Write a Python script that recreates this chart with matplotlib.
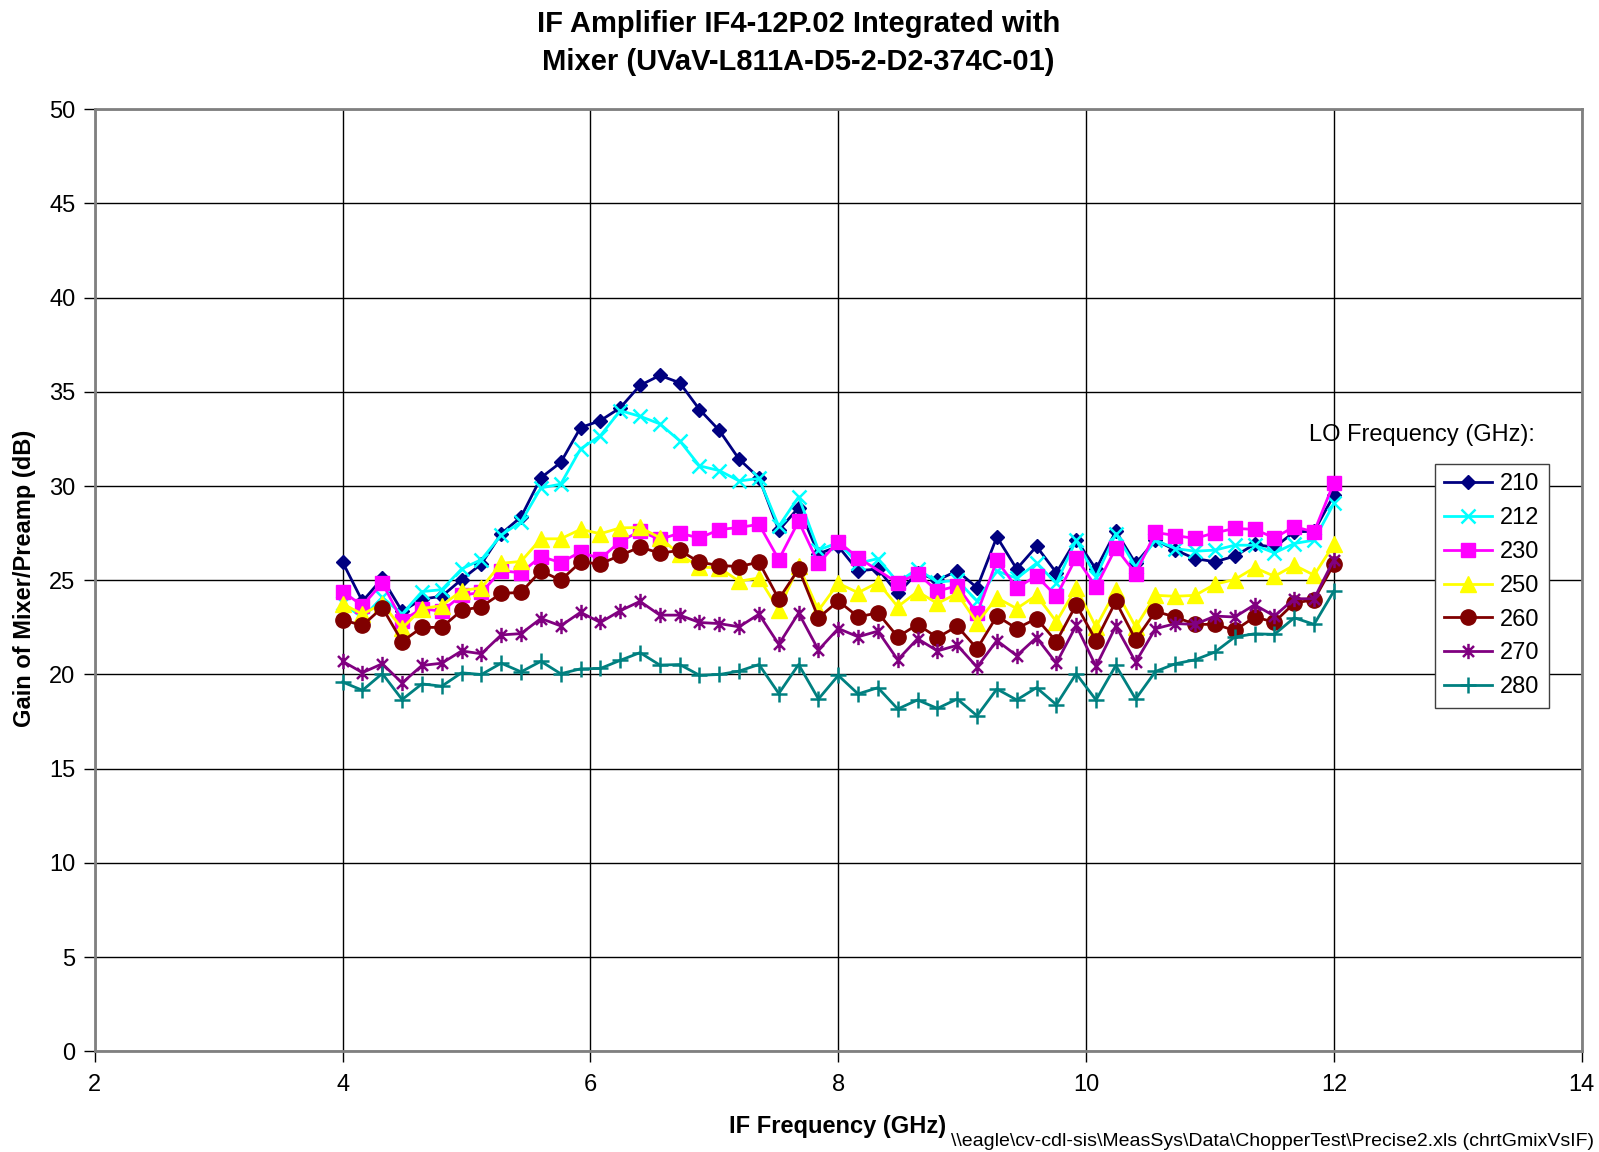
import numpy as np
import matplotlib
matplotlib.use("Agg")
import matplotlib.pyplot as plt
from matplotlib.path import Path

# ---------------- data ----------------
if_freq = [4.00, 4.16, 4.32, 4.48, 4.64, 4.80, 4.96, 5.12, 5.28, 5.44,
           5.60, 5.76, 5.92, 6.08, 6.24, 6.40, 6.56, 6.72, 6.88, 7.04,
           7.20, 7.36, 7.52, 7.68, 7.84, 8.00, 8.16, 8.32, 8.48, 8.64,
           8.80, 8.96, 9.12, 9.28, 9.44, 9.60, 9.76, 9.92, 10.08, 10.24,
           10.40, 10.56, 10.72, 10.88, 11.04, 11.20, 11.36, 11.52, 11.68, 11.84,
           12.00]

g210 = [25.96, 23.88, 25.10, 23.35, 24.00, 24.15, 25.04, 25.87, 27.47, 28.36,
        30.44, 31.25, 33.10, 33.47, 34.15, 35.34, 35.87, 35.48, 34.06, 32.95,
        31.42, 30.44, 27.65, 28.86, 26.40, 26.80, 25.50, 25.60, 24.30, 25.40,
        25.00, 25.50, 24.60, 27.30, 25.60, 26.80, 25.40, 27.16, 25.59, 27.60,
        25.89, 27.13, 26.60, 26.15, 25.98, 26.28, 26.91, 26.74, 27.57, 27.60,
        29.52]
g212 = [23.80, 23.00, 24.10, 23.20, 24.40, 24.50, 25.60, 26.10, 27.40, 28.10,
        29.90, 30.10, 31.97, 32.67, 34.00, 33.70, 33.30, 32.40, 31.07, 30.82,
        30.27, 30.40, 27.86, 29.43, 26.60, 27.00, 25.90, 26.15, 24.90, 25.60,
        24.90, 25.00, 23.90, 25.50, 25.10, 25.90, 24.85, 27.13, 25.18, 27.48,
        25.71, 27.13, 26.68, 26.54, 26.60, 26.86, 26.86, 26.45, 26.95, 27.13,
        29.08]
g230 = [24.40, 23.65, 24.86, 22.85, 23.50, 23.35, 24.20, 24.36, 25.50, 25.40,
        26.26, 25.94, 26.50, 26.14, 27.06, 27.60, 27.17, 27.50, 27.24, 27.69,
        27.80, 27.97, 26.10, 28.13, 25.90, 27.04, 26.20, np.nan, 24.86, 25.35,
        24.43, 24.70, 23.24, 26.05, 24.60, 25.23, 24.15, 26.20, 24.65, 26.72,
        25.35, 27.54, 27.37, 27.22, 27.52, 27.75, 27.70, 27.25, 27.84, 27.57,
        30.18]
g250 = [23.75, 23.20, 23.75, 22.45, 23.50, 23.65, 24.45, 24.60, 25.90, 26.00,
        27.20, 27.20, 27.70, 27.47, 27.78, 27.80, 27.26, 26.37, 25.70, 25.66,
        24.95, 25.12, 23.42, 25.78, 23.40, 24.84, 24.34, 24.88, 23.60, 24.40,
        23.77, 24.30, 22.74, 24.07, 23.50, 24.20, 22.80, 24.60, 22.52, 24.47,
        22.52, 24.20, 24.15, 24.20, 24.79, 25.04, 25.67, 25.21, 25.80, 25.27,
        26.91]
g260 = [22.90, 22.60, 23.55, 21.75, 22.50, 22.50, 23.40, 23.60, 24.30, 24.36,
        25.50, 25.00, 25.96, 25.87, 26.32, 26.76, 26.44, 26.58, 25.96, 25.78,
        25.73, 25.96, 24.00, 25.60, 23.00, 23.90, 23.06, 23.27, 22.00, 22.65,
        21.96, 22.56, 21.37, 23.10, 22.44, 22.97, 21.75, 23.70, 21.80, 23.88,
        21.84, 23.35, 23.05, 22.66, 22.66, 22.34, 23.05, 22.78, 23.79, 23.97,
        25.85]
g270 = [20.70, 20.10, 20.57, 19.55, 20.48, 20.60, 21.25, 21.10, 22.10, 22.17,
        22.97, 22.58, 23.30, 22.76, 23.38, 23.88, 23.15, 23.15, 22.76, 22.70,
        22.53, 23.20, 21.60, 23.26, 21.30, 22.44, 22.00, 22.30, 20.78, 21.90,
        21.25, 21.55, 20.39, 21.80, 21.00, 21.96, 20.60, 22.60, 20.43, 22.57,
        20.66, 22.43, 22.70, 22.66, 23.10, 23.05, 23.70, 23.10, 24.02, 24.02,
        26.10]
g280 = [19.60, 19.16, 20.05, 18.67, 19.50, 19.38, 20.09, 20.00, 20.60, 20.14,
        20.70, 20.04, 20.30, 20.32, 20.75, 21.16, 20.50, 20.53, 19.96, 20.00,
        20.18, 20.53, 18.99, 20.53, 18.70, 19.95, 18.97, 19.30, 18.17, 18.65,
        18.20, 18.70, 17.81, 19.23, 18.65, 19.30, 18.40, 20.04, 18.65, 20.48,
        18.70, 20.16, 20.57, 20.78, 21.19, 21.99, 22.16, 22.13, 23.01, 22.66,
        24.43]

lo_labels = ["210", "212", "230", "250", "260", "270", "280"]
series = [g210, g212, g230, g250, g260, g270, g280]

x_ticks = [2, 4, 6, 8, 10, 12, 14]
y_ticks = [0, 5, 10, 15, 20, 25, 30, 35, 40, 45, 50]

title_lines = ["IF Amplifier IF4-12P.02 Integrated with",
               "Mixer (UVaV-L811A-D5-2-D2-374C-01)"]
x_label = "IF Frequency (GHz)"
y_label = "Gain of Mixer/Preamp (dB)"
path_note = r"\\eagle\cv-cdl-sis\MeasSys\Data\ChopperTest\Precise2.xls (chrtGmixVsIF)"
legend_title = "LO Frequency (GHz):"

# ---------------- styles ----------------
asterisk = Path([(0, -1), (0, 1), (-0.72, -0.72), (0.72, 0.72), (-0.72, 0.72), (0.72, -0.72)],
                [Path.MOVETO, Path.LINETO, Path.MOVETO, Path.LINETO, Path.MOVETO, Path.LINETO])
styles = [
    dict(color="#000080", marker="D", ms=7.5, mfc="#000080", mec="#000080", mew=1),
    dict(color="#00FFFF", marker="x", ms=10, mfc="none", mec="#00FFFF", mew=1.8),
    dict(color="#FF00FF", marker="s", ms=10.5, mfc="#FF00FF", mec="#FF00FF", mew=1),
    dict(color="#FFFF00", marker="^", ms=11, mfc="#FFFF00", mec="#FFFF00", mew=1),
    dict(color="#800000", marker="o", ms=11, mfc="#800000", mec="#800000", mew=1),
    dict(color="#800080", marker=asterisk, ms=11, mfc="none", mec="#800080", mew=1.8),
    dict(color="#008080", marker="+", ms=12, mfc="none", mec="#008080", mew=1.8),
]

plt.rcParams['font.family'] = ['Liberation Sans', 'DejaVu Sans']

fig = plt.figure(figsize=(15.99, 11.52), dpi=100)
ax = fig.add_axes([0.0593, 0.0873, 0.9892 - 0.0593, 0.9053 - 0.0873])

xs = np.array(if_freq)
handles = []
for vals, lab, st in zip(series, lo_labels, styles):
    v = np.array(vals, dtype=float)
    m = ~np.isnan(v)
    h, = ax.plot(xs[m], v[m], linestyle='-', linewidth=2.0, label=lab, zorder=3,
                 color=st['color'], marker=st['marker'], markersize=st['ms'],
                 markerfacecolor=st['mfc'], markeredgecolor=st['mec'],
                 markeredgewidth=st['mew'])
    handles.append(h)

ax.set_xlim(2, 14)
ax.set_ylim(0, 50)
ax.set_xticks(x_ticks)
ax.set_yticks(y_ticks)
ax.set_xticklabels([str(t) for t in x_ticks], fontsize=17)
ax.set_yticklabels([str(t) for t in y_ticks], fontsize=17)
ax.tick_params(axis='both', direction='out', length=8, width=1, colors='black', pad=6)
ax.tick_params(axis='x', pad=8)
ax.grid(True, color='black', linewidth=1.0, zorder=1)
ax.set_axisbelow(True)
for s in ax.spines.values():
    s.set_color('#808080')
    s.set_linewidth(2)

fig.text(0.4995, 1 - 23.5 / 1152, title_lines[0], ha='center', va='center',
         fontsize=21, fontweight='bold')
fig.text(0.4995, 1 - 61.5 / 1152, title_lines[1], ha='center', va='center',
         fontsize=21, fontweight='bold')
fig.text(24.5 / 1599, 1 - 578 / 1152, y_label, ha='center', va='center', rotation=90,
         fontsize=17, fontweight='bold')
fig.text(838 / 1599, 1 - 1127 / 1152, x_label, ha='center', va='center',
         fontsize=17, fontweight='bold')
fig.text(951 / 1599, 1 - 1142 / 1152, path_note, ha='left', va='center', fontsize=14)

fig.text(1309 / 1599, 1 - 435 / 1152, legend_title, ha='left', va='center', fontsize=17)
leg = fig.legend(handles=handles, labels=lo_labels, loc='upper left',
                 bbox_to_anchor=(1435 / 1599, 1 - 464 / 1152), fontsize=17, frameon=True,
                 fancybox=False, framealpha=1, edgecolor='#404040',
                 handlelength=2.0, handletextpad=0.35, labelspacing=0.5,
                 borderpad=0.4, borderaxespad=0)
leg.get_frame().set_linewidth(1.0)

fig.savefig("out.png", dpi=100, facecolor='white')
